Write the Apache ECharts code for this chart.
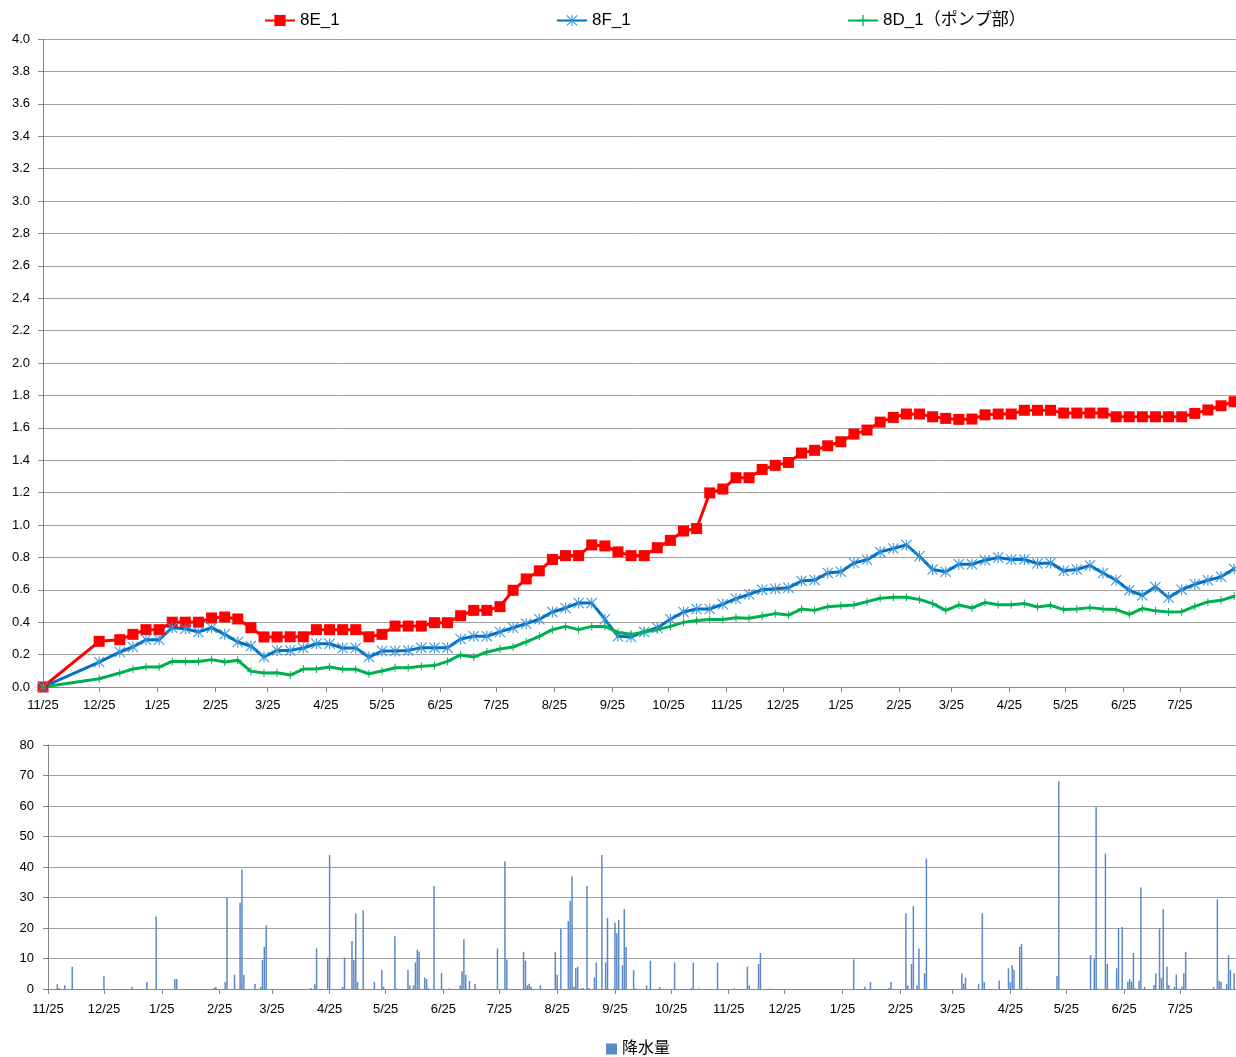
<!DOCTYPE html>
<html>
<head>
<meta charset="utf-8">
<script src="https://cdn.jsdelivr.net/npm/echarts@6/dist/echarts.min.js"></script>
<style>
html,body{margin:0;padding:0;background:#fff;}
#chart{width:1236px;height:1057px;}
</style>
</head>
<body>
<div id="chart"></div>
<script>
// ---- measurement dates (top chart) ----
const measureDates = [
'2016-11-25','2016-12-25',
'2017-01-05','2017-01-12','2017-01-19','2017-01-26',
'2017-02-02','2017-02-09','2017-02-16','2017-02-23',
'2017-03-02','2017-03-09','2017-03-16','2017-03-23','2017-03-30',
'2017-04-06','2017-04-13','2017-04-20','2017-04-27',
'2017-05-04','2017-05-11','2017-05-18','2017-05-25',
'2017-06-01','2017-06-08','2017-06-15','2017-06-22','2017-06-29',
'2017-07-06','2017-07-13','2017-07-20','2017-07-27',
'2017-08-03','2017-08-10','2017-08-17','2017-08-24','2017-08-31',
'2017-09-07','2017-09-14','2017-09-21','2017-09-28',
'2017-10-05','2017-10-12','2017-10-19','2017-10-26',
'2017-11-02','2017-11-09','2017-11-16','2017-11-23','2017-11-30',
'2017-12-07','2017-12-14','2017-12-21','2017-12-28',
'2018-01-04','2018-01-11','2018-01-18','2018-01-25',
'2018-02-01','2018-02-08','2018-02-15','2018-02-22',
'2018-03-01','2018-03-08','2018-03-15','2018-03-22','2018-03-29',
'2018-04-05','2018-04-12','2018-04-19','2018-04-26',
'2018-05-03','2018-05-10','2018-05-17','2018-05-24','2018-05-31',
'2018-06-07','2018-06-14','2018-06-21','2018-06-28',
'2018-07-05','2018-07-12','2018-07-19','2018-07-26',
'2018-08-02','2018-08-09','2018-08-16','2018-08-23'
];

const series8E1 = [0.000,0.282,0.292,0.325,0.354,0.354,0.400,0.400,0.400,0.426,0.432,0.420,0.366,0.309,0.309,0.310,0.310,0.354,0.354,0.354,0.354,0.310,0.325,0.376,0.376,0.376,0.397,0.397,0.440,0.473,0.473,0.496,0.597,0.667,0.717,0.787,0.811,0.811,0.877,0.871,0.834,0.811,0.811,0.860,0.905,0.963,0.978,1.198,1.222,1.292,1.292,1.343,1.368,1.386,1.444,1.461,1.489,1.514,1.561,1.586,1.635,1.664,1.685,1.685,1.668,1.658,1.652,1.654,1.680,1.685,1.685,1.708,1.708,1.708,1.691,1.691,1.691,1.691,1.668,1.668,1.668,1.668,1.668,1.668,1.689,1.710,1.736,1.761];

const series8F1 = [0.000,0.154,0.216,0.247,0.292,0.292,0.366,0.360,0.340,0.366,0.325,0.278,0.253,0.185,0.226,0.226,0.241,0.267,0.267,0.241,0.241,0.185,0.222,0.222,0.226,0.243,0.243,0.243,0.296,0.313,0.313,0.340,0.366,0.391,0.418,0.463,0.488,0.519,0.519,0.418,0.313,0.309,0.340,0.366,0.418,0.463,0.482,0.482,0.511,0.545,0.572,0.601,0.607,0.613,0.654,0.660,0.704,0.712,0.765,0.786,0.834,0.855,0.877,0.807,0.725,0.711,0.758,0.758,0.783,0.799,0.787,0.787,0.762,0.766,0.717,0.725,0.750,0.704,0.659,0.597,0.566,0.618,0.552,0.601,0.634,0.659,0.680,0.729];

const series8D1 = [0.000,0.051,0.086,0.111,0.123,0.123,0.158,0.158,0.158,0.169,0.154,0.165,0.097,0.086,0.088,0.074,0.111,0.111,0.123,0.109,0.109,0.082,0.099,0.119,0.119,0.128,0.132,0.158,0.198,0.185,0.216,0.235,0.247,0.278,0.313,0.354,0.374,0.354,0.374,0.374,0.337,0.325,0.340,0.354,0.374,0.399,0.411,0.416,0.416,0.428,0.424,0.438,0.453,0.444,0.481,0.473,0.496,0.502,0.506,0.527,0.548,0.554,0.554,0.540,0.515,0.473,0.506,0.488,0.521,0.508,0.508,0.515,0.494,0.504,0.478,0.482,0.490,0.482,0.478,0.449,0.484,0.470,0.463,0.465,0.498,0.525,0.535,0.560];

// ---- daily rainfall (non-zero days) ----
const rainDates = [
'2016-11-30','2016-12-01','2016-12-04','2016-12-08','2016-12-25',
'2017-01-09','2017-01-17','2017-01-22',
'2017-02-01','2017-02-02','2017-02-22','2017-02-23','2017-02-28',
'2017-03-01','2017-03-05','2017-03-08','2017-03-09','2017-03-10','2017-03-16','2017-03-19','2017-03-20','2017-03-21','2017-03-22',
'2017-04-15','2017-04-17','2017-04-18','2017-04-24','2017-04-25',
'2017-05-02','2017-05-03','2017-05-07','2017-05-08','2017-05-09','2017-05-10','2017-05-13','2017-05-19','2017-05-23','2017-05-24','2017-05-30','2017-05-31',
'2017-06-06','2017-06-07','2017-06-09','2017-06-10','2017-06-11','2017-06-12','2017-06-15','2017-06-16','2017-06-17','2017-06-20','2017-06-24','2017-06-28',
'2017-07-04','2017-07-05','2017-07-06','2017-07-07','2017-07-09','2017-07-12','2017-07-24','2017-07-28','2017-07-29',
'2017-08-07','2017-08-08','2017-08-09','2017-08-10','2017-08-11','2017-08-16','2017-08-24','2017-08-25','2017-08-27','2017-08-31',
'2017-09-01','2017-09-02','2017-09-03','2017-09-04','2017-09-05','2017-09-07','2017-09-08','2017-09-10','2017-09-11','2017-09-14','2017-09-15','2017-09-18','2017-09-20','2017-09-21','2017-09-25','2017-09-26','2017-09-27','2017-09-29','2017-09-30',
'2017-10-01','2017-10-05','2017-10-06','2017-10-12','2017-10-14','2017-10-19','2017-10-27',
'2017-11-05','2017-11-06','2017-11-09','2017-11-19','2017-11-28',
'2017-12-05','2017-12-06','2017-12-11','2017-12-12','2017-12-17',
'2018-01-31',
'2018-02-06','2018-02-09','2018-02-19','2018-02-20','2018-02-28',
'2018-03-01','2018-03-03','2018-03-04','2018-03-06','2018-03-07','2018-03-10','2018-03-11','2018-03-30','2018-03-31',
'2018-04-01','2018-04-08','2018-04-10','2018-04-11','2018-04-19','2018-04-24','2018-04-25','2018-04-26','2018-04-27','2018-04-30',
'2018-05-01','2018-05-04','2018-05-20','2018-05-21',
'2018-06-07','2018-06-09','2018-06-10','2018-06-11','2018-06-15','2018-06-16','2018-06-21','2018-06-22','2018-06-24','2018-06-27','2018-06-28','2018-06-29','2018-06-30',
'2018-07-01','2018-07-03','2018-07-04','2018-07-06','2018-07-11','2018-07-12','2018-07-14','2018-07-15','2018-07-16','2018-07-18','2018-07-19','2018-07-22','2018-07-23','2018-07-24','2018-07-26','2018-07-27','2018-07-28',
'2018-08-12','2018-08-14','2018-08-15','2018-08-16','2018-08-19','2018-08-20','2018-08-21','2018-08-23'
];
const rainValues = [
1.6,0.3,1.2,7.3,4.3,
0.7,2.3,23.8,
3.3,3.3,0.3,0.7,2.3,
29.8,4.7,28.3,39.2,4.7,1.6,0.7,9.5,13.8,20.8,
0.3,1.6,13.3,10.3,43.9,
0.7,10.3,15.7,9.5,24.8,2.3,25.8,2.3,6.2,0.7,17.3,0.2,
6.2,1.2,1.2,8.7,12.8,12.2,3.8,3.3,0.3,33.8,5.2,0.2,
1.2,5.8,16.3,4.7,2.7,1.6,13.3,41.9,9.7,
12.2,9.3,1.2,1.7,0.7,1.2,12.2,4.7,19.8,22.3,
28.9,37.0,0.7,6.8,7.3,0.3,0.3,33.8,0.3,3.8,8.7,43.9,8.7,23.3,21.7,18.3,22.7,7.8,26.2,
13.8,6.2,0.2,1.2,9.3,0.7,8.7,
0.3,8.7,0.2,8.7,0.2,
7.3,1.2,8.2,11.8,0.2,
9.7,
0.7,2.3,0.3,2.3,24.8,
1.2,8.2,27.2,1.2,13.3,5.2,42.8,5.1,1.7,
3.7,1.6,24.8,2.2,2.8,6.8,2.2,7.8,6.2,13.8,
14.8,0.2,4.3,68.0,
11.1,9.8,59.6,0.2,44.4,8.2,6.8,19.9,20.3,2.4,3.3,2.4,11.8,
0.2,2.7,33.3,0.7,1.3,5.1,19.9,3.7,26.2,7.3,1.3,0.7,4.7,0.2,0.7,5.2,12.2,
0.7,29.4,2.7,2.3,1.7,11.1,6.2,5.2
];

// ---- axis tick labels (month/25) ----
const tickDates = [
'2016-11-25','2016-12-25','2017-01-25','2017-02-25','2017-03-25','2017-04-25','2017-05-25',
'2017-06-25','2017-07-25','2017-08-25','2017-09-25','2017-10-25','2017-11-25','2017-12-25',
'2018-01-25','2018-02-25','2018-03-25','2018-04-25','2018-05-25','2018-06-25','2018-07-25'
];
const axisStart = '2016-11-25';
const axisEnd = '2018-08-24';

function ts(s){ const p = s.split('-'); return new Date(+p[0], +p[1]-1, +p[2]).getTime(); }
const tickTs = tickDates.map(ts);
function mdFmt(v){ const d = new Date(v); return (d.getMonth()+1) + '/' + d.getDate(); }

const FONT = '"Liberation Sans", "Noto Sans CJK JP", sans-serif';
const GRID_COLOR = '#a0a0a0';
const AXIS_COLOR = '#868686';

const asteriskPath = 'path://M4.5 0 L5.5 0 L5.5 10 L4.5 10 Z M0 0.7 L0.7 0 L10 9.3 L9.3 10 Z M9.3 0 L10 0.7 L0.7 10 L0 9.3 Z';
const plusPath = 'path://M4.4 0 L5.6 0 L5.6 4.4 L10 4.4 L10 5.6 L5.6 5.6 L5.6 10 L4.4 10 L4.4 5.6 L0 5.6 L0 4.4 L4.4 4.4 Z';

function pairs(dates, vals){ return dates.map((d,i)=>[ts(d), vals[i]]); }

function xAxisCfg(gridIndex, margin){
  return {
    type: 'value', gridIndex: gridIndex,
    min: ts(axisStart), max: ts(axisEnd),
    axisLine: {show: true, onZero: false, lineStyle: {color: AXIS_COLOR, width: 1}},
    axisTick: {show: true, length: 5, lineStyle: {color: AXIS_COLOR}, customValues: tickTs},
    axisLabel: {customValues: tickTs, formatter: mdFmt, color: '#000', fontSize: 13, fontFamily: FONT, margin: margin},
    splitLine: {show: false},
    minorTick: {show: false}
  };
}

const legendText = {fontSize: 17, color: '#000', fontFamily: FONT};
const chart = echarts.init(document.getElementById('chart'), null, {renderer: 'canvas'});
const option = {
  animation: false,
  backgroundColor: '#fff',
  textStyle: {fontFamily: FONT},
  grid: [
    {left: 43, top: 39, width: 1193, height: 648},
    {left: 48, top: 745, width: 1188, height: 244}
  ],
  legend: [
    {data: ['8E_1'], left: 264, top: 12, padding: 0, itemWidth: 30, itemHeight: 14, textStyle: legendText},
    {data: ['8F_1'], left: 556, top: 12, padding: 0, itemWidth: 30, itemHeight: 14, textStyle: legendText},
    {data: ['8D_1（ポンプ部）'], left: 847, top: 12, padding: 0, itemWidth: 30, itemHeight: 14, textStyle: legendText},
    {data: ['降水量'], left: 606, top: 1041, padding: 0, icon: 'rect', itemWidth: 11, itemHeight: 11, textStyle: {fontSize: 16, color: '#000', fontFamily: FONT}}
  ],
  xAxis: [xAxisCfg(0, 12), xAxisCfg(1, 14)],
  yAxis: [
    {type: 'value', gridIndex: 0, min: 0, max: 4, interval: 0.2,
     axisLine: {show: true, lineStyle: {color: AXIS_COLOR}},
     axisTick: {show: true, length: 5, lineStyle: {color: AXIS_COLOR}},
     axisLabel: {formatter: v => v.toFixed(1), color: '#000', fontSize: 13, fontFamily: FONT, margin: 13},
     splitLine: {show: true, lineStyle: {color: GRID_COLOR, width: 1}}},
    {type: 'value', gridIndex: 1, min: 0, max: 80, interval: 10,
     axisLine: {show: true, lineStyle: {color: AXIS_COLOR}},
     axisTick: {show: true, length: 5, lineStyle: {color: AXIS_COLOR}},
     axisLabel: {color: '#000', fontSize: 13, fontFamily: FONT, margin: 14},
     splitLine: {show: true, lineStyle: {color: GRID_COLOR, width: 1}}}
  ],
  series: [
    {name: '8E_1', type: 'line', xAxisIndex: 0, yAxisIndex: 0,
     data: pairs(measureDates, series8E1),
     symbol: 'rect', symbolSize: 11, showAllSymbol: true,
     lineStyle: {color: '#ff0000', width: 3},
     itemStyle: {color: '#ff0000'}},
    {name: '8F_1', type: 'line', xAxisIndex: 0, yAxisIndex: 0,
     data: pairs(measureDates, series8F1),
     symbol: asteriskPath, symbolSize: 11, showAllSymbol: true,
     lineStyle: {color: '#0070c0', width: 3},
     itemStyle: {color: '#3c95dc'}},
    {name: '8D_1（ポンプ部）', type: 'line', xAxisIndex: 0, yAxisIndex: 0,
     data: pairs(measureDates, series8D1),
     symbol: plusPath, symbolSize: 8, showAllSymbol: true,
     lineStyle: {color: '#00b050', width: 3},
     itemStyle: {color: '#00b050'}},
    {name: '降水量', type: 'bar', xAxisIndex: 1, yAxisIndex: 1,
     data: pairs(rainDates, rainValues),
     barWidth: 1.5,
     itemStyle: {color: '#5a8ac6'}}
  ]
};
chart.setOption(option);
</script>
</body>
</html>
